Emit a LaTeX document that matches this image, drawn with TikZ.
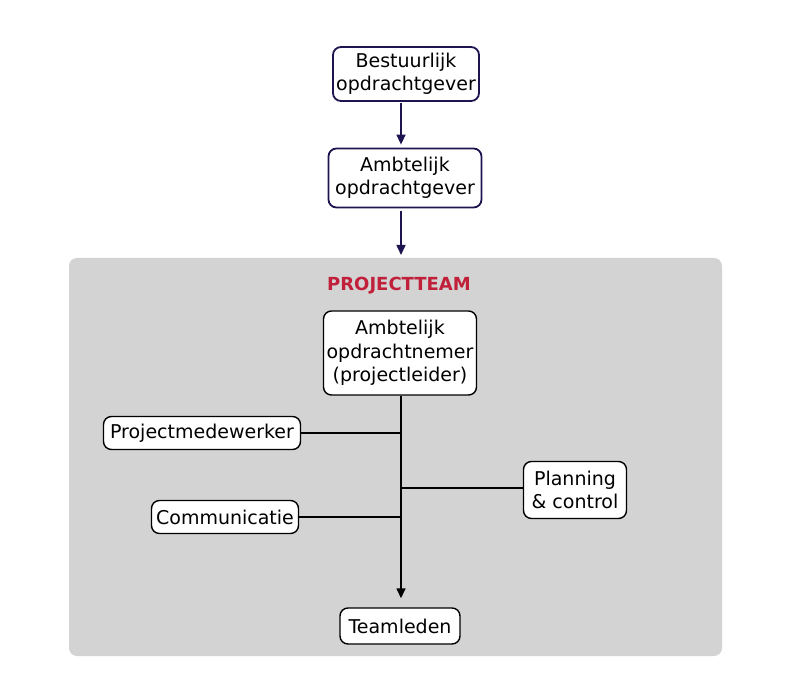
\documentclass[tikz,border=0pt]{standalone}
\usepackage{fontspec}
\setmainfont{DejaVu Sans}
\usetikzlibrary{calc}
\usetikzlibrary{arrows.meta}
\definecolor{navy}{RGB}{30,20,80}
\definecolor{teamgray}{RGB}{211,211,211}
\definecolor{teamred}{RGB}{192,32,58}
\tikzset{
  orgbox/.style={draw=black,line width=1.4pt,rounded corners=8pt,fill=white,align=center,
    font=\fontsize{19}{23.5}\selectfont,inner sep=1pt},
  topbox/.style={orgbox,draw=navy,line width=1.8pt},
  link/.style={line width=1.5pt},
}
\begin{document}
\begin{tikzpicture}[x=1pt,y=-1pt]%
\useasboundingbox (0,0) rectangle (800,700);%
\fill[teamgray,rounded corners=8pt] (69,258) rectangle (722,656);%
\node[font=\fontsize{18}{21}\selectfont\bfseries,text=teamred] (team) at (399,286) {PROJECTTEAM};%
\node[topbox,minimum width=146pt,minimum height=54pt] (bestuur) at (406,74) {Bestuurlijk\\opdrachtgever};%
\node[topbox,minimum width=153pt,minimum height=59pt] (gever) at (405,178) {Ambtelijk\\opdrachtgever};%
\node[orgbox,minimum width=153pt,minimum height=84pt] (nemer) at (400,353) {Ambtelijk\\opdrachtnemer\\(projectleider)};%
\node[orgbox,minimum width=197pt,minimum height=33pt] (medewerker) at (202,433) {Projectmedewerker};%
\node[orgbox,minimum width=147pt,minimum height=33pt] (comm) at (225,517) {Communicatie};%
\node[orgbox,minimum width=103pt,minimum height=57pt] (planning) at (575,490) {Planning\\\& control};%
\node[orgbox,minimum width=120pt,minimum height=36pt] (leden) at (400,626) {Teamleden};%
\draw[link,navy,-{Triangle[length=10pt,width=9pt]}] ($(bestuur.south -| 401,0)+(0,1)$) -- ($(gever.north -| 401,0)+(0,-3)$);%
\draw[link,navy,-{Triangle[length=10pt,width=9pt]}] ($(gever.south -| 401,0)+(0,3)$) -- (401,255);%
\draw[link,-{Triangle[length=10pt,width=9pt]}] (nemer.south -| 401,0) -- ($(leden.north -| 401,0)+(0,-9)$);%
\draw[link] (medewerker.east) -- (medewerker.east -| 401,0);%
\draw[link] (comm.east) -- (comm.east -| 401,0);%
\draw[link] (planning.west |- 0,488) -- (401,488);%
\end{tikzpicture}
\end{document}
